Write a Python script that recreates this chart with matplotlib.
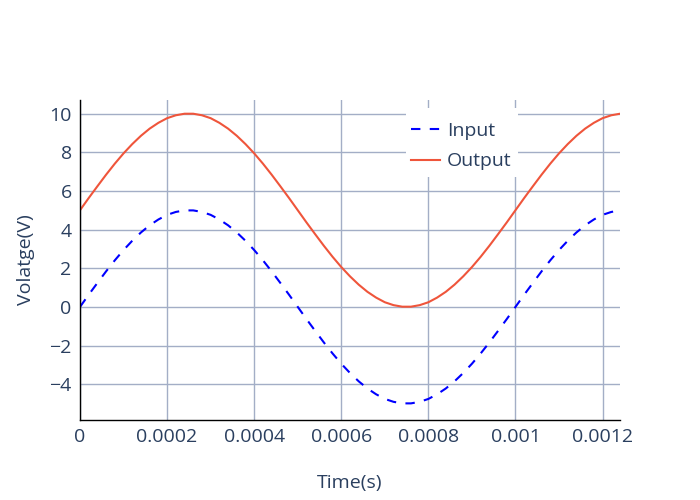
import numpy as np
import matplotlib.pyplot as plt
from matplotlib.patches import Rectangle

# sample times (s), 63 points from 0 to 1.24 ms
time_s = np.linspace(0, 0.00124, 63)

input_v = [0, 0.63, 1.24, 1.84, 2.41, 2.94, 3.42, 3.85, 4.22, 4.52, 4.76, 4.91, 4.99,
           4.99, 4.91, 4.76, 4.52, 4.22, 3.85, 3.42, 2.94, 2.41, 1.84, 1.24, 0.63,
           0, -0.63, -1.24, -1.84, -2.41, -2.94, -3.42, -3.85, -4.22, -4.52, -4.76, -4.91, -4.99,
           -4.99, -4.91, -4.76, -4.52, -4.22, -3.85, -3.42, -2.94, -2.41, -1.84, -1.24, -0.63,
           0, 0.63, 1.24, 1.84, 2.41, 2.94, 3.42, 3.85, 4.22, 4.52, 4.76, 4.91, 4.99]

output_v = [5.0, 5.63, 6.24, 6.84, 7.41, 7.94, 8.42, 8.85, 9.22, 9.52, 9.76, 9.91, 9.99,
            9.99, 9.91, 9.76, 9.52, 9.22, 8.85, 8.42, 7.94, 7.41, 6.84, 6.24, 5.63,
            5.0, 4.37, 3.76, 3.16, 2.59, 2.06, 1.58, 1.15, 0.78, 0.48, 0.24, 0.09, 0.01,
            0.01, 0.09, 0.24, 0.48, 0.78, 1.15, 1.58, 2.06, 2.59, 3.16, 3.76, 4.37,
            5.0, 5.63, 6.24, 6.84, 7.41, 7.94, 8.42, 8.85, 9.22, 9.52, 9.76, 9.91, 9.99]

x_ticks = [0, 0.0002, 0.0004, 0.0006, 0.0008, 0.001, 0.0012]
x_labels = ['0', '0.0002', '0.0004', '0.0006', '0.0008', '0.001', '0.0012']
y_ticks = [-4, -2, 0, 2, 4, 6, 8, 10]

text_col = '#2a3f5f'
grid_col = '#a3aec6'

plt.rcParams['font.family'] = ['Open Sans', 'DejaVu Sans']
plt.rcParams['font.size'] = 14

fig = plt.figure(figsize=(7, 5), dpi=100)
ax = fig.add_axes([80 / 700, 80 / 500, 540 / 700, 320 / 500])

ax.plot(time_s, input_v, color='#0000ff', ls=(0, (4.5, 4.5)), lw=1.5, label='Input')
ax.plot(time_s, output_v, color='#EF553B', lw=1.5, label='Output')

ax.set_xlim(0, 0.00124)
ax.set_ylim(-5.85, 10.7)
ax.set_xticks(x_ticks)
ax.set_xticklabels(x_labels)
ax.set_yticks(y_ticks)
ax.set_yticklabels([str(v).replace('-', '\u2212') for v in y_ticks])

ax.grid(True, color=grid_col, lw=1)
ax.set_axisbelow(True)
for side in ['top', 'right']:
    ax.spines[side].set_visible(False)
for side in ['left', 'bottom']:
    ax.spines[side].set_color('black')
    ax.spines[side].set_linewidth(1)
ax.tick_params(length=0, colors=text_col, labelsize=14, pad=6)

ax.set_xlabel('Time(s)', color=text_col, fontsize=14, labelpad=20)
ax.set_ylabel('Volatge(V)', color=text_col, fontsize=14, labelpad=10)

# white legend background like plotly's
ax.add_patch(Rectangle((0.6037, 0.759), 0.207, 0.216, transform=ax.transAxes,
                       facecolor='white', edgecolor='none', zorder=1.5))

leg = ax.legend(loc='upper left', bbox_to_anchor=(0.613, 0.932), frameon=False,
                handlelength=1.5, handletextpad=0.36, borderpad=0, labelspacing=0.65,
                borderaxespad=0, fontsize=14)
for t in leg.get_texts():
    t.set_color(text_col)

fig.savefig('out.png', dpi=100)
